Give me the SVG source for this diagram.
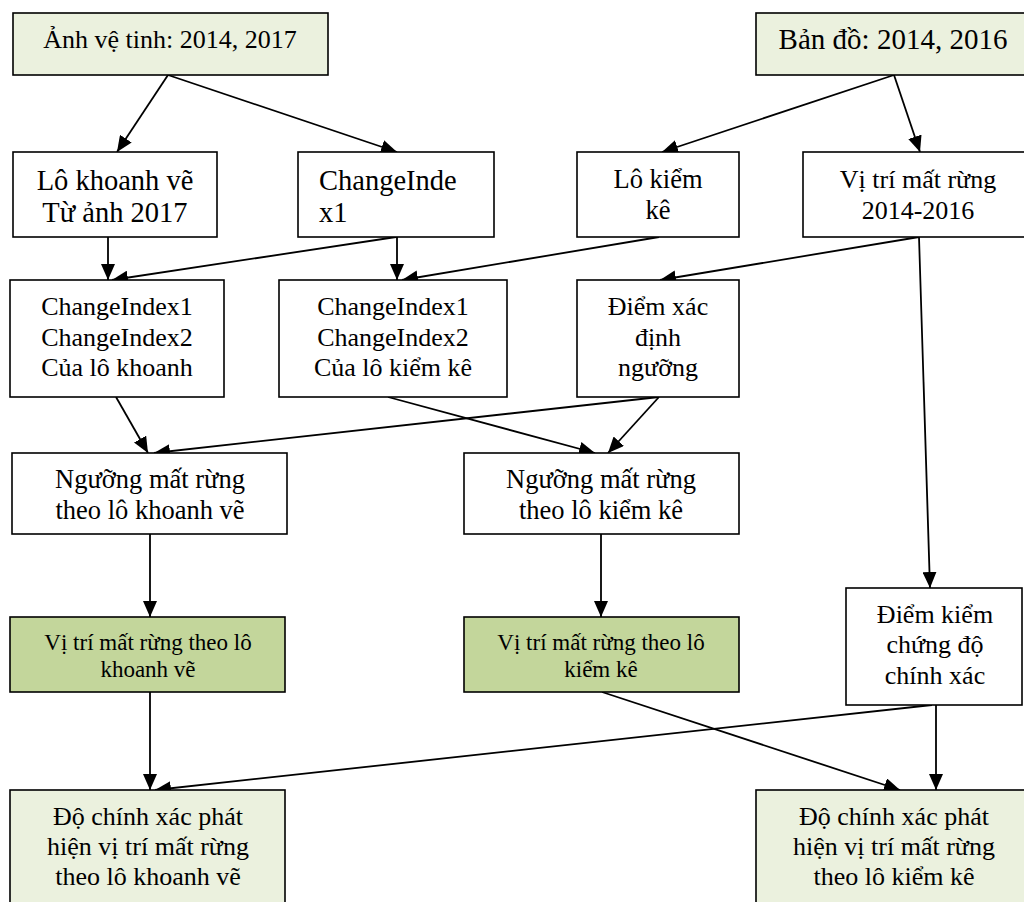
<svg xmlns="http://www.w3.org/2000/svg" width="1024" height="902" viewBox="0 0 1024 902">
<style>
.n rect{stroke:#000;stroke-width:1.6}
.w{fill:#fff}.lg{fill:#ebf1de}.g{fill:#c3d69b}
text{font-family:"Liberation Serif","Times New Roman",serif;fill:#000;text-anchor:middle}
.c line{stroke:#000;stroke-width:1.8;marker-end:url(#a)}
</style>
<defs>
<marker id="a" viewBox="0 0 16 14" refX="16" refY="7" markerWidth="16" markerHeight="14" markerUnits="userSpaceOnUse" orient="auto">
<path d="M0,0 L16,7 L0,14 z" fill="#000"/>
</marker>
</defs>
<rect width="1024" height="902" fill="#fff"/>
<g class="c">
<line x1="168" y1="75" x2="117" y2="152"/>
<line x1="168" y1="75" x2="397" y2="152"/>
<line x1="894" y1="75" x2="662" y2="152"/>
<line x1="894" y1="75" x2="920" y2="152"/>
<line x1="108" y1="237" x2="108" y2="280"/>
<line x1="396" y1="237" x2="112" y2="280"/>
<line x1="397" y1="237" x2="397" y2="280"/>
<line x1="659" y1="237" x2="402" y2="280"/>
<line x1="919" y1="237" x2="660" y2="280"/>
<line x1="919" y1="237" x2="930" y2="588"/>
<line x1="116" y1="397" x2="148" y2="453"/>
<line x1="659" y1="397" x2="154" y2="453"/>
<line x1="388" y1="397" x2="595" y2="453"/>
<line x1="659" y1="397" x2="608" y2="453"/>
<line x1="150" y1="534" x2="150" y2="617"/>
<line x1="601" y1="534" x2="601" y2="617"/>
<line x1="150" y1="692" x2="150" y2="790"/>
<line x1="932" y1="705" x2="155" y2="790"/>
<line x1="602" y1="692" x2="900" y2="790"/>
<line x1="936" y1="705" x2="936" y2="790"/>
</g>
<g id="n1" class="n"><rect class="lg" x="13" y="13" width="315" height="62"/><text x="170" y="48" font-size="26">Ảnh vệ tinh: 2014, 2017</text></g>
<g id="n2" class="n"><rect class="lg" x="756" y="13" width="280" height="62"/><text x="893" y="49" font-size="29">Bản đồ: 2014, 2016</text></g>
<g id="n3" class="n"><rect class="w" x="13" y="152" width="204" height="85"/><text font-size="28.5"><tspan x="115" y="190">Lô khoanh vẽ</tspan><tspan x="115" y="222">Từ ảnh 2017</tspan></text></g>
<g id="n4" class="n"><rect class="w" x="298" y="152" width="196" height="85"/><text font-size="28.5" style="text-anchor:start"><tspan x="319" y="190">ChangeInde</tspan><tspan x="319" y="222">x1</tspan></text></g>
<g id="n5" class="n"><rect class="w" x="577" y="152" width="162" height="85"/><text font-size="26.5"><tspan x="658" y="188">Lô kiểm</tspan><tspan x="658" y="219">kê</tspan></text></g>
<g id="n6" class="n"><rect class="w" x="803" y="152" width="233" height="85"/><text font-size="26"><tspan x="918" y="188">Vị trí mất rừng</tspan><tspan x="918" y="219">2014-2016</tspan></text></g>
<g id="n7" class="n"><rect class="w" x="10" y="280" width="214" height="117"/><text font-size="26"><tspan x="117" y="315">ChangeIndex1</tspan><tspan x="117" y="346">ChangeIndex2</tspan><tspan x="117" y="376">Của lô khoanh</tspan></text></g>
<g id="n8" class="n"><rect class="w" x="279" y="280" width="228" height="117"/><text font-size="26"><tspan x="393" y="315">ChangeIndex1</tspan><tspan x="393" y="346">ChangeIndex2</tspan><tspan x="393" y="376">Của lô kiểm kê</tspan></text></g>
<g id="n9" class="n"><rect class="w" x="577" y="280" width="162" height="117"/><text font-size="26"><tspan x="658" y="315">Điểm xác</tspan><tspan x="658" y="346">định</tspan><tspan x="658" y="376">ngưỡng</tspan></text></g>
<g id="n10" class="n"><rect class="w" x="12" y="453" width="275" height="81"/><text font-size="26.5"><tspan x="150" y="488">Ngưỡng mất rừng</tspan><tspan x="150" y="519">theo lô khoanh vẽ</tspan></text></g>
<g id="n11" class="n"><rect class="w" x="464" y="453" width="275" height="81"/><text font-size="26.5"><tspan x="601" y="488">Ngưỡng mất rừng</tspan><tspan x="601" y="519">theo lô kiểm kê</tspan></text></g>
<g id="n12" class="n"><rect class="w" x="846" y="588" width="176" height="117"/><text font-size="26"><tspan x="935" y="623">Điểm kiểm</tspan><tspan x="935" y="653">chứng độ</tspan><tspan x="935" y="684">chính xác</tspan></text></g>
<g id="n13" class="n"><rect class="g" x="10" y="617" width="275" height="75"/><text font-size="23"><tspan x="148" y="650">Vị trí mất rừng theo lô</tspan><tspan x="148" y="677">khoanh vẽ</tspan></text></g>
<g id="n14" class="n"><rect class="g" x="464" y="617" width="275" height="75"/><text font-size="23"><tspan x="601" y="650">Vị trí mất rừng theo lô</tspan><tspan x="601" y="677">kiểm kê</tspan></text></g>
<g id="n15" class="n"><rect class="lg" x="10" y="790" width="275" height="120"/><text font-size="26"><tspan x="148" y="825">Độ chính xác phát</tspan><tspan x="148" y="855">hiện vị trí mất rừng</tspan><tspan x="148" y="885">theo lô khoanh vẽ</tspan></text></g>
<g id="n16" class="n"><rect class="lg" x="756" y="790" width="280" height="120"/><text font-size="26"><tspan x="894" y="825">Độ chính xác phát</tspan><tspan x="894" y="855">hiện vị trí mất rừng</tspan><tspan x="894" y="885">theo lô kiểm kê</tspan></text></g>
</svg>
